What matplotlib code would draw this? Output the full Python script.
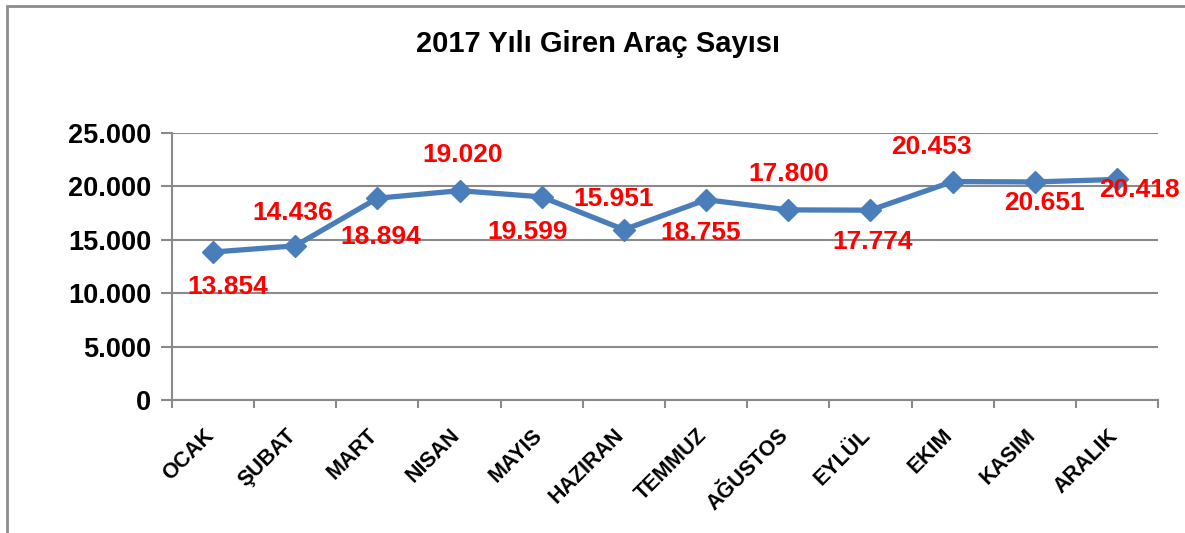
import matplotlib.pyplot as plt
from matplotlib.patches import Rectangle
from matplotlib.ticker import FuncFormatter, FixedLocator

plt.rcParams['font.family'] = ['Liberation Sans', 'DejaVu Sans']

# data
months = ['OCAK', 'ŞUBAT', 'MART', 'NISAN', 'MAYIS', 'HAZIRAN', 'TEMMUZ',
          'AĞUSTOS', 'EYLÜL', 'EKIM', 'KASIM', 'ARALIK']
vehicles = [13854, 14436, 18894, 19599, 19020, 15951, 18755,
            17800, 17774, 20453, 20418, 20651]
# labels as printed in the chart
label_texts = ['13.854', '14.436', '18.894', '19.020', '19.599', '15.951',
               '18.755', '17.800', '17.774', '20.453', '20.651', '20.418']

# label offsets (pixels) from each point
label_offsets = [(15, -35), (-3, 33), (3, -39), (3, 36), (-14, -35), (-10, 31),
                 (-5, -33), (0, 36), (2, -32), (-21, 35), (10, -21), (23, -11)]

line_color = '#4a7ebb'
grid_color = '#8a8a8a'

fig = plt.figure(figsize=(11.85, 5.33), dpi=100)
ax = fig.add_axes([172 / 1185, 1 - 400 / 533, (1158 - 172) / 1185, (400 - 133) / 533])

x = list(range(len(months)))
ax.plot(x, vehicles, color=line_color, linewidth=3.8, marker='D',
        markersize=11, markerfacecolor=line_color, markeredgecolor=line_color,
        zorder=3)

for xi, yi, txt, off in zip(x, vehicles, label_texts, label_offsets):
    ax.annotate(txt, (xi, yi), xytext=off, textcoords='offset pixels',
                ha='center', va='center', color='#ff0000', fontsize=19,
                fontweight='bold', zorder=4, annotation_clip=False)

ax.set_xlim(-0.5, len(months) - 0.5)
ax.set_ylim(0, 25000)
ax.set_yticks(range(0, 25001, 5000))
ax.yaxis.set_major_formatter(FuncFormatter(lambda v, p: f'{int(v):,}'.replace(',', '.')))
ax.grid(axis='y', color=grid_color, linewidth=1.5)
ax.set_axisbelow(True)

# month names, rotated, ending up-left of each category centre
ax.set_xticks(x)
ax.set_xticklabels([])
for xi, name in zip(x, months):
    ax.annotate(name, (xi, 0), xycoords=ax.get_xaxis_transform(),
                xytext=(-10, -25), textcoords='offset pixels', rotation=45,
                rotation_mode='anchor', ha='right', va='top', fontsize=15.5,
                fontweight='bold', annotation_clip=False)
ax.xaxis.set_minor_locator(FixedLocator([i - 0.5 for i in range(len(months) + 1)]))
ax.tick_params(axis='x', which='major', length=0)
ax.tick_params(axis='x', which='minor', length=6, width=1.5, color=grid_color,
               direction='out')
ax.tick_params(axis='y', length=8, width=1.5, color=grid_color, pad=7,
               labelsize=19.5)
for lab in ax.get_yticklabels():
    lab.set_fontweight('bold')

for side in ['top', 'right']:
    ax.spines[side].set_visible(False)
for side in ['left', 'bottom']:
    ax.spines[side].set_color(grid_color)
    ax.spines[side].set_linewidth(1.5)

fig.text(598 / 1185, 1 - 44 / 533, '2017 Yılı Giren Araç Sayısı', ha='center',
         va='center', fontsize=21, fontweight='bold')

# outer chart frame
fig.patches.append(Rectangle((7 / 1185, -0.1), 1.2, 1 - 6 / 533 + 0.1,
                             transform=fig.transFigure, fill=False,
                             edgecolor='#8c8c8c', linewidth=2))

plt.savefig('out.png', dpi=100)
